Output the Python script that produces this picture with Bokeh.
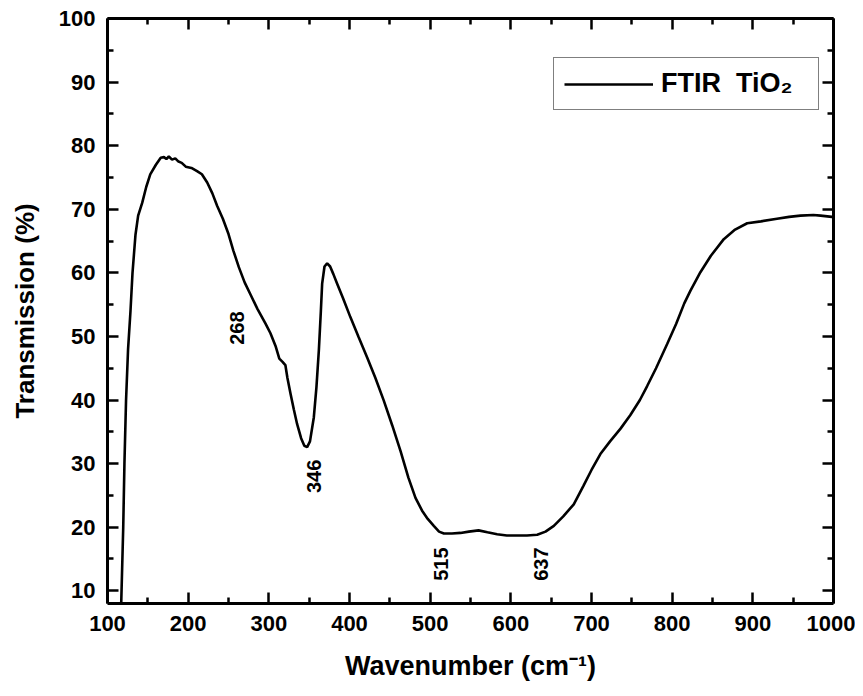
import numpy as np
from bokeh.plotting import figure
from bokeh.models import (Range1d, LinearAxis, FixedTicker, Legend, LegendItem,
                          ColumnDataSource, CustomJSTickFormatter)
from bokeh.core.properties import value
from bokeh.embed import file_html
from bokeh.resources import INLINE

# ---- data ----
wavenumber = [117, 119.5, 121, 123, 125.5, 128.5, 131, 134.7, 138, 143, 148, 153, 160, 166,
              170, 173, 176, 180, 184, 188, 192, 197, 204, 211, 217, 223.6, 230, 236, 243,
              250, 256, 262.8, 270, 278, 286, 295.9, 302, 308.3, 313, 317, 320.5, 323,
              326.9, 331, 335.1, 340, 344, 347.5, 351, 355.8, 359, 362, 364.5, 366.1, 369,
              372.3, 376, 380, 384.7, 392, 401.2, 411, 421.9, 432, 442.5, 453, 463.2, 473,
              481.8, 490, 497, 504.5, 511, 517, 527, 537.6, 548, 560, 571, 583, 595, 607.9,
              620, 632.7, 643, 653.3, 665, 678, 690, 700, 711, 723, 736, 748, 760, 769, 780,
              793.8, 805, 815, 822.7, 835, 848, 864, 878, 893, 910, 930, 945, 959, 975, 984,
              998, 1000]
transmission = [8, 20, 30, 40, 48, 54, 60, 66, 69, 71, 73.5, 75.5, 77, 78.1,
                78.2, 77.9, 78.3, 77.8, 78.0, 77.5, 77.3, 76.7, 76.5, 76.0, 75.5, 74.2, 72.5, 70.5, 68.5,
                66.1, 63.5, 60.9, 58.5, 56.4, 54.3, 52, 50.5, 48.5, 46.5, 46.0, 45.5, 43.5,
                41, 38.5, 36.2, 34, 32.8, 32.6, 33.5, 37.3, 42, 47.8, 54, 58.3, 61,
                61.5, 61.0, 59.8, 58.3, 56, 53, 50, 46.7, 43.5, 39.9, 36, 32, 27.8,
                24.6, 22.6, 21.3, 20.2, 19.3, 19.0, 19.0, 19.1, 19.3, 19.5, 19.2, 18.9, 18.7, 18.7,
                18.7, 18.8, 19.3, 20.2, 21.7, 23.6, 26.5, 29, 31.5, 33.5, 35.5, 37.6, 40, 42.2, 45,
                48.8, 52, 55.2, 57.2, 60.1, 62.7, 65.3, 66.8, 67.8, 68.1, 68.5, 68.8, 69, 69.1, 69,
                68.8, 68.8]

peak_labels = ["268", "346", "515", "637"]
peak_label_x = [261, 356, 514, 637]
peak_label_y = [51.3, 28.0, 14.2, 14.2]

x_ticks = [100, 200, 300, 400, 500, 600, 700, 800, 900, 1000]
x_minor_ticks = [150, 250, 350, 450, 550, 650, 750, 850, 950]
y_ticks = [10, 20, 30, 40, 50, 60, 70, 80, 90, 100]
y_minor_ticks = [15, 25, 35, 45, 55, 65, 75, 85, 95]

series_label = "FTIR  TiO\u2082"
x_title = "Wavenumber (cm\u207b\u00b9)"
y_title = "Transmission (%)"

FONT = "Liberation Sans"

p = figure(width=855, height=688, frame_width=726, frame_height=585,
           x_range=Range1d(100, 1000), y_range=Range1d(8, 100),
           output_backend="svg", toolbar_location=None,
           min_border_left=107, min_border_top=18, min_border_right=22, min_border_bottom=85)
p.outline_line_color = None
p.xgrid.grid_line_color = None
p.ygrid.grid_line_color = None


def style_axis(ax, labels=True):
    ax.axis_line_width = 3
    ax.axis_line_color = "black"
    ax.major_tick_line_width = 2.5
    ax.minor_tick_line_width = 2.5
    ax.major_tick_line_color = "black"
    ax.minor_tick_line_color = "black"
    ax.major_tick_in = 11
    ax.major_tick_out = 0
    ax.minor_tick_in = 6
    ax.minor_tick_out = 0
    ax.major_label_text_font = FONT
    ax.major_label_text_font_style = "bold"
    ax.major_label_text_color = "black"
    ax.axis_label_text_font = FONT
    ax.axis_label_text_font_style = "bold"
    ax.axis_label_text_color = "black"
    if labels:
        ax.major_label_text_font_size = "22px"
        ax.major_label_standoff = 12
    else:
        ax.formatter = CustomJSTickFormatter(code="return ''")
        ax.major_label_text_font_size = "1px"
        ax.major_label_standoff = 0


p.xaxis.ticker = FixedTicker(ticks=x_ticks, minor_ticks=x_minor_ticks)
p.yaxis.ticker = FixedTicker(ticks=y_ticks, minor_ticks=y_minor_ticks)
for ax in p.xaxis:
    style_axis(ax)
    ax.axis_label = x_title
    ax.axis_label_text_font_size = "27px"
    ax.axis_label_standoff = 17
for ax in p.yaxis:
    style_axis(ax)
    ax.axis_label = y_title
    ax.axis_label_text_font_size = "26px"
    ax.axis_label_standoff = 16

top = LinearAxis(ticker=FixedTicker(ticks=x_ticks, minor_ticks=x_minor_ticks))
style_axis(top, labels=False)
p.add_layout(top, "above")
right = LinearAxis(ticker=FixedTicker(ticks=y_ticks, minor_ticks=y_minor_ticks))
style_axis(right, labels=False)
p.add_layout(right, "right")

src = ColumnDataSource(dict(x=wavenumber, y=transmission))
r = p.line("x", "y", source=src, line_width=2.6, line_color="black")

lab = ColumnDataSource(dict(x=peak_label_x, y=peak_label_y, t=peak_labels))
p.text("x", "y", text="t", source=lab, angle=np.pi / 2, text_align="center",
       text_baseline="middle", text_font=value(FONT), text_font_style="bold",
       text_font_size="20px", text_color="black")

legend = Legend(items=[LegendItem(label=series_label, renderers=[r])],
                location=(446, 493), padding=10, margin=0, spacing=0,
                glyph_width=89, glyph_height=30, label_standoff=8, label_width=147,
                border_line_color="black", border_line_width=1.5,
                label_text_font=FONT, label_text_font_style="bold",
                label_text_font_size="27px", label_text_color="black",
                background_fill_color="white", background_fill_alpha=1)
p.add_layout(legend)

open("out.html", "w").write(file_html(p, INLINE))
